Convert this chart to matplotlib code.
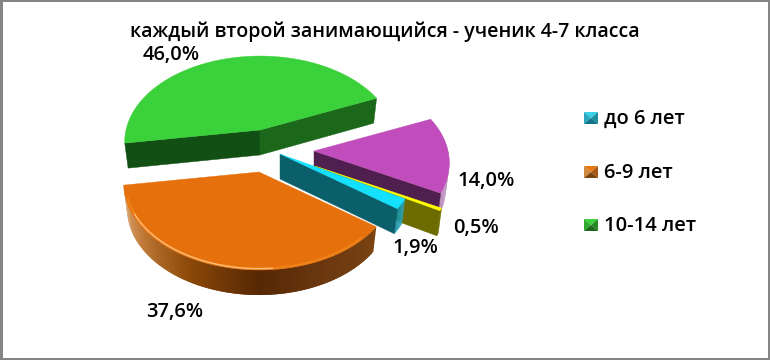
#!/usr/bin/env python

"""
3D looking exploded pie: age groups of students
"""

import numpy as np
import matplotlib
matplotlib.use('Agg')
import matplotlib.pyplot as pl
from matplotlib.collections import PolyCollection
from matplotlib.colors import LinearSegmentedColormap
from matplotlib.patches import Rectangle, Polygon

title = 'каждый второй занимающийся - ученик 4-7 класса'

# order around the pie, clockwise from the green slice
values = [46.0, 14.0, 0.5, 1.9, 37.6]

legend_names = ['до 6 лет', '6-9 лет', '10-14 лет']
legend_top = ['#38d0e4', '#e6780f', '#3ad13a']
legend_left = ['#2aa8c0', '#d08a40', '#2fa82f']
legend_right = ['#1c8ea0', '#a85a14', '#258a25']
legend_dark = ['#0f7484', '#7a4410', '#1b681b']
legend_y = [118, 172, 225]

# slice centres on the canvas (pixels) and colours
centres = [(260, 130), (314, 151), (315, 166), (280, 154), (259, 172)]
tops = ['#3ad13a', '#c04dbb', '#ffff00', '#14e0ff', '#e6700c']
cuts = ['#1b681b', '#4f1f4f', '#6b6b00', '#0a5f6a', '#6b3810']
label_pos = [(171, 55), (486, 181), (476, 228), (415, 248), (175, 312)]

start = 171.4 # angle of first slice edge, clockwise from +x
rx, ry = 134., 86.
persp = 0.14
depth = 25.
inset = 0.975 # bottom of the slices is a bit narrower

pl.rcParams['font.family'] = ['Open Sans', 'Noto Sans', 'DejaVu Sans']

fig = pl.figure(figsize=(7.7, 3.6), dpi=100)
ax = fig.add_axes([0, 0, 1, 1])
ax.set_xlim(0, 770)
ax.set_ylim(360, 0)
ax.axis('off')


def rim(cen, angles):
    t = np.radians(angles)
    f = 1. + persp*np.sin(t)
    return np.column_stack([cen[0] + rx*np.cos(t)*f, cen[1] + ry*np.sin(t)*f])


def lower(cen, p):
    return (cen[0] + (p[0]-cen[0])*inset, p[1] + depth)


def cut_face(cen, ang, color):
    p = rim(cen, np.array([ang]))[0]
    verts = [cen, p, lower(cen, p), (cen[0], cen[1]+depth)]
    ax.add_patch(Polygon(verts, closed=True, fc=color, ec=color, lw=0.3))


def side(cen, a0, a1, cmap):
    ang = np.linspace(a0, a1, 120)
    p = rim(cen, ang)
    quads = []
    cols = []
    for i in range(len(ang)-1):
        j = min(i+2, len(ang)-1) # overlap the strips so no seams show
        quads.append([p[i], p[j], lower(cen, p[j]), lower(cen, p[i])])
        cols.append(cmap(i/(len(ang)-2.)))
    ax.add_collection(PolyCollection(quads, facecolors=cols, edgecolors='none'))


side_maps = [
    None,
    LinearSegmentedColormap.from_list('p', ['#e8d0e8', '#d8b0d8', '#b888b8']),
    LinearSegmentedColormap.from_list('y', ['#8a8a00', '#6b6b00']),
    LinearSegmentedColormap.from_list('c', ['#30b0c8', '#1590a8']),
    LinearSegmentedColormap.from_list('o', ['#7a4410', '#6b3810', '#572804',
                                            '#8a4808', '#c07a38', '#e4ae7c']),
]

# grey frame
for r in [(0, 0, 770, 2), (0, 358, 770, 2), (0, 0, 3, 360), (768, 0, 2, 360)]:
    ax.add_patch(Rectangle(r[:2], r[2], r[3], fc='#858585', ec='none'))

edges = start + np.concatenate([[0.], np.cumsum(values)*3.6])

# which cut of each slice faces the viewer
cut_angles = [edges[1], edges[2], edges[3], edges[4], None]

for i in range(len(values)):
    cen = centres[i]
    a0, a1 = edges[i], edges[i+1]
    if i == 0:
        cut_face(cen, a0, '#124f14') # green shows its left cut as well
    else:
        side(cen, a0, a1, side_maps[i])
    if cut_angles[i] is not None:
        cut_face(cen, cut_angles[i], cuts[i])
    arc = rim(cen, np.linspace(a0, a1, 120))
    ax.add_patch(Polygon(np.vstack([[cen], arc]), closed=True, fc=tops[i], ec=tops[i], lw=0.3))

# bevel highlight along the front of the orange slice
t = np.linspace(edges[4], edges[5], 120)[8:112]
arc = rim(centres[4], t)
arc[:, 0] = centres[4][0] + (arc[:, 0]-centres[4][0])*0.985
arc[:, 1] = centres[4][1] + (arc[:, 1]-centres[4][1])*0.985
ax.plot(arc[:, 0], arc[:, 1], color='#ee8218', lw=1.5)
ax.plot(arc[35:95, 0], arc[35:95, 1], color='#ffc080', lw=0.9)

for v, pos in zip(values, label_pos):
    ax.text(pos[0], pos[1], ('%.1f%%' % v).replace('.', ','), ha='center', va='center',
            fontsize=14.5, fontweight='semibold', color='k')

ax.text(385, 32, title, ha='center', va='center', fontsize=14, fontweight='semibold', color='k')

# legend with little pyramid markers
for name, y, top, left, right, dark in zip(legend_names, legend_y, legend_top,
                                           legend_left, legend_right, legend_dark):
    x0, x1 = 584, 598
    y0, y1 = y-6, y+6
    xm, ym = (x0+x1)/2., (y0+y1)/2.
    ax.add_patch(Polygon([(x0, y0), (x1, y0), (xm, ym)], fc=top, ec='none'))
    ax.add_patch(Polygon([(x0, y0), (x0, y1), (xm, ym)], fc=left, ec='none'))
    ax.add_patch(Polygon([(x1, y0), (x1, y1), (xm, ym)], fc=right, ec='none'))
    ax.add_patch(Polygon([(x0, y1), (x1, y1), (xm, ym)], fc=dark, ec='none'))
    ax.text(604, y+1, name, ha='left', va='center', fontsize=14.5, fontweight='semibold', color='k')

pl.savefig('out.png', dpi=100)
